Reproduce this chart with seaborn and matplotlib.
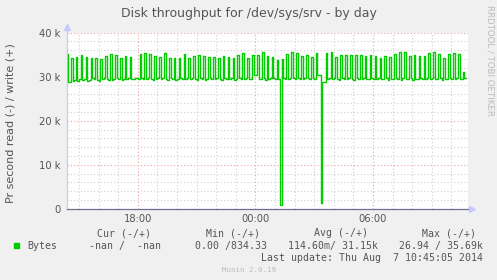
import numpy as np
import pandas as pd
import matplotlib
matplotlib.use("Agg")
import matplotlib.pyplot as plt
from matplotlib.patches import Rectangle
import seaborn as sns

# ---------------- data (kB/s, 5-minute samples starting 14:25) ----------------
afternoon = [  # 14:25 - 17:55
    35.2, 28.7, 28.9, 34.2, 29.0, 29.2, 34.5,
    29.1, 29.4, 34.9, 29.3, 29.5, 34.4, 29.0, 29.2, 34.2, 29.6, 29.4, 34.2,
    29.3, 29.1, 34.0, 29.4, 29.6, 34.7, 29.5, 29.3, 35.2, 29.2, 29.5, 34.9,
    29.6, 29.4, 34.2, 29.3, 29.5, 34.7, 29.4, 29.6, 34.4, 29.5, 29.5, 29.7,
]
evening = [  # 18:00 - 23:55
    29.6, 29.5, 35.2, 29.7, 29.5, 35.3, 29.4, 29.6, 35.2, 29.5, 29.3, 34.7,
    29.5, 29.7, 34.4, 29.4, 29.6, 35.3, 29.5, 29.3, 34.2, 29.6, 29.4, 34.2,
    29.3, 29.5, 34.2, 29.6, 29.4, 35.2, 29.5, 29.7, 34.2, 29.4, 29.6, 34.7,
    29.5, 29.3, 34.9, 29.6, 29.4, 34.7, 29.2, 29.5, 34.4, 29.6, 29.4, 34.4,
    29.4, 29.6, 34.2, 29.5, 29.3, 34.7, 29.6, 29.4, 34.4, 29.5, 29.7, 34.2,
    29.3, 29.5, 34.9, 29.6, 29.4, 35.3, 29.5, 29.6, 34.2, 29.4, 29.5, 34.9,
]
night = [  # 00:00 - 05:55
    30.3, 30.3, 34.9, 29.5, 29.4, 35.5, 29.6, 29.3, 34.7, 29.5, 29.6, 34.4,
    29.6, 29.4, 33.8, 29.5, 0.83, 34.0, 29.6, 29.4, 35.2, 29.5, 29.6, 35.69,
    29.7, 29.5, 35.3, 29.6, 29.4, 34.7, 29.5, 29.7, 34.9, 29.6, 29.5, 34.4,
    29.6, 29.5, 35.3, 30.3, 30.4, 1.2, 28.8, 28.9, 35.3, 29.5, 29.6, 35.5,
    29.4, 29.6, 34.4, 29.5, 29.3, 34.9, 29.6, 29.5, 34.9, 29.4, 29.6, 34.9,
    29.5, 29.3, 34.9, 29.6, 29.4, 34.9, 29.5, 29.6, 34.7, 29.4, 29.5, 34.9,
]
morning = [  # 06:00 - 10:45
    29.6, 29.4, 34.7, 29.5, 29.6, 34.2, 29.4, 29.5, 34.7, 29.6, 29.3, 34.4,
    29.5, 29.4, 35.2, 29.6, 29.5, 35.5, 29.3, 29.6, 35.5, 29.4, 29.5, 34.7,
    29.6, 29.3, 34.9, 29.5, 29.4, 34.7, 29.6, 29.5, 34.7, 29.4, 29.6, 35.3,
    29.5, 29.6, 35.5, 29.4, 29.5, 35.2, 29.6, 29.3, 34.2, 29.5, 29.4, 35.2,
    29.6, 29.4, 35.3, 29.5, 29.6, 35.2, 29.4, 29.5, 31.0, 29.8,
]
start_hour = 14 + 25 / 60.0      # first sample at 14:25 (Aug 6)
step_hours = 5 / 60.0

major_ticks = [18, 24, 30]
major_labels = ["18:00", "00:00", "06:00"]
y_ticks = [0, 10000, 20000, 30000, 40000]
y_labels = ["0", "10 k", "20 k", "30 k", "40 k"]

title = "Disk throughput for /dev/sys/srv - by day"
ylabel = "Pr second read (-) / write (+)"
legend_heads = ["Cur (-/+)", "Min (-/+)", "Avg (-/+)", "Max (-/+)"]
legend_vals = ["-nan /  -nan", "0.00 /834.33", "114.60m/ 31.15k", "26.94 / 35.69k"]
series_name = "Bytes"
last_update = "Last update: Thu Aug  7 10:45:05 2014"
footer = "Munin 2.0.19"
watermark = "RRDTOOL / TOBI OETIKER"

# ---------------- build frame ----------------
values_k = afternoon + evening + night + morning
df = pd.DataFrame({
    "hour": start_hour + step_hours * np.arange(len(values_k)),
    "bytes": np.array(values_k) * 1000.0,
})

# ---------------- figure ----------------
sns.set_style("white")
plt.rcParams["font.family"] = ["DejaVu Sans"]
W, H = 497, 280
BG = "#F0F0F0"
TXT = "#555555"
fig = plt.figure(figsize=(W / 100, H / 100), dpi=100, facecolor=BG)

L, R, T, B = 66.7, 468.0, 32.7, 208.7
ax = fig.add_axes([L / W, 1 - B / H, (R - L) / W, (B - T) / H])
ax.set_facecolor("white")

x0 = 14 + 22 / 60.0
x1 = 34 + 51 / 60.0
ax.set_xlim(x0, x1)
ax.set_ylim(0, 40000)

# grids
minor_col = "#CFCFCF"
major_col = "#F2A0A0"
dot = (0, (1, 2))
for h in range(15, 35):
    if h not in major_ticks:
        ax.axvline(h, color=minor_col, lw=0.8, ls=dot, zorder=1)
for v in range(2000, 40001, 2000):
    if v % 10000:
        ax.axhline(v, color=minor_col, lw=0.8, ls=dot, zorder=1)
for h in major_ticks:
    ax.axvline(h, color=major_col, lw=0.8, ls=dot, zorder=1.5)
for v in y_ticks[1:]:
    ax.axhline(v, color=major_col, lw=0.8, ls=dot, zorder=1.5)

sns.lineplot(data=df, x="hour", y="bytes", ax=ax, color="#00CC00",
             lw=1.0, drawstyle="steps-pre", legend=False, zorder=3)

ax.set_xticks(major_ticks)
ax.set_xticklabels(major_labels)
ax.set_yticks(y_ticks)
ax.set_yticklabels(y_labels)
ax.tick_params(axis="both", length=0, labelsize=7.2, colors=TXT)
ax.tick_params(axis="x", pad=4)
ax.tick_params(axis="y", pad=4.5)
ax.set_xlabel("")
ax.set_ylabel("")

for s in ["top", "right"]:
    ax.spines[s].set_visible(False)
ax.spines["left"].set_color("#C8C8FF")
ax.spines["left"].set_linewidth(0.9)
ax.spines["bottom"].set_color("#707090")
ax.spines["bottom"].set_linewidth(0.9)
ax.spines["bottom"].set_zorder(4)
# axis arrows
ax.plot([0, 0], [1.0, 1.03], transform=ax.transAxes, color="#C8C8FF",
        lw=0.9, clip_on=False)
ax.plot([0], [1.03], marker="^", ms=4, color="#C8C8FF",
        transform=ax.transAxes, clip_on=False)
ax.plot([1.0, 1.011], [0, 0], transform=ax.transAxes, color="#C8C8FF",
        lw=0.9, clip_on=False)
ax.plot([1.011], [0], marker=">", ms=4, color="#C8C8FF",
        transform=ax.transAxes, clip_on=False)


def fx(x):
    return x / W


def fy(y):
    return 1 - y / H


fig.text(fx(249), fy(17.5), title, ha="center", va="baseline",
         fontsize=9.0, color=TXT)
fig.text(fx(11), fy(123), ylabel, ha="center", va="center",
         rotation=90, fontsize=8.0, color=TXT)
fig.text(fx(490), fy(5), watermark, ha="center", va="top", rotation=270,
         fontsize=6.2, color="#BBBBBB")

mono = dict(family="DejaVu Sans Mono", fontsize=7.1, color=TXT)
for txt, xr in zip(legend_heads, [151, 260, 368, 476]):
    fig.text(fx(xr), fy(236.5), txt, ha="right", va="baseline", **mono)
for txt, xr in zip(legend_vals, [161, 267, 378, 483]):
    fig.text(fx(xr), fy(248.7), txt, ha="right", va="baseline", **mono)
fig.add_artist(Rectangle((fx(14), fy(248)), 5 / W, 5 / H,
                         transform=fig.transFigure, color="#00CC00"))
fig.text(fx(27), fy(248.7), series_name, ha="left", va="baseline", **mono)
fig.text(fx(483), fy(260.7), last_update, ha="right", va="baseline", **mono)
fig.text(fx(249), fy(271.7), footer, ha="center", va="baseline",
         family="DejaVu Sans Mono", fontsize=5.3, color="#BBBBBB")

fig.savefig("out.png", dpi=100, facecolor=BG)
